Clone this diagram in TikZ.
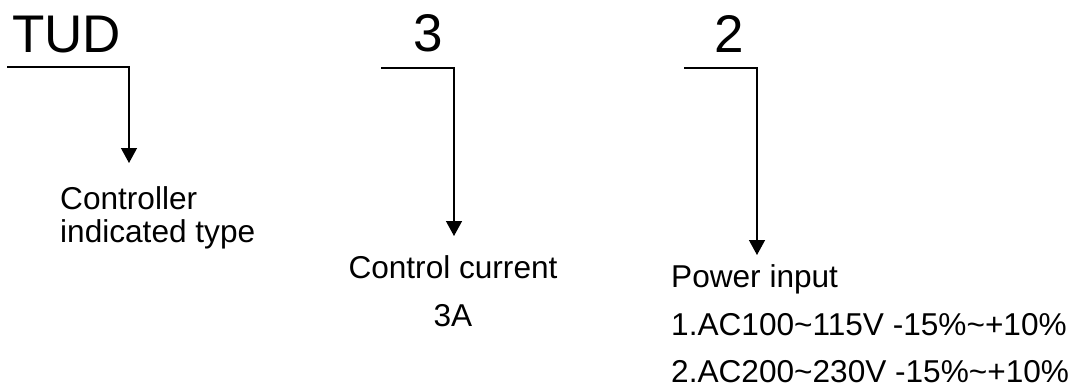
\documentclass[tikz,border=0pt]{standalone}
\usepackage{fontspec}
\setmainfont{Liberation Sans}
\usetikzlibrary{arrows.meta}

\begin{document}
\begin{tikzpicture}[x=1pt,y=-1pt,
  codetext/.style={font=\fontsize{53}{60}\selectfont,inner sep=0pt},
  desctext/.style={font=\fontsize{31.6}{38}\selectfont,inner sep=0pt},
  leader/.style={line width=1.4pt,-{Triangle[length=15pt,width=16pt]}}]
\useasboundingbox (0,0) rectangle (1079,388);
% code letters
\node[codetext,anchor=base west] (tud) at (12,52) {TUD};
\node[codetext,anchor=base] (cur) at (428.5,51) {3};
\node[codetext,anchor=base] (pwr) at (729.5,52) {2};

% leader lines
\coordinate (tudS) at (7,67);
\coordinate (tudK) at (129,67);
\coordinate (tudE) at (129,163);
\draw[leader] (tudS) -- (tudK) -- (tudE);
\coordinate (curS) at (381,68);
\coordinate (curK) at (454,68);
\coordinate (curE) at (454,236);
\draw[leader] (curS) -- (curK) -- (curE);
\coordinate (pwrS) at (684,68);
\coordinate (pwrK) at (757,68);
\coordinate (pwrE) at (757,255);
\draw[leader] (pwrS) -- (pwrK) -- (pwrE);

% descriptions
\node[desctext,anchor=base west] (tudA) at (60,209) {Controller};
\node[desctext,anchor=base west] (tudB) at (60,242) {indicated type};
\node[desctext,anchor=base] (curA) at (453,278) {Control current};
\node[desctext,anchor=base] (curB) at (453,326) {3A};
\node[desctext,anchor=base west] (pwrA) at (671,287) {Power input};
\node[desctext,anchor=base west] (pwrB) at (671,335) {1.AC100\textasciitilde115V -15\%\textasciitilde+10\%};
\node[desctext,anchor=base west] (pwrC) at (671,382) {2.AC200\textasciitilde230V -15\%\textasciitilde+10\%};
\end{tikzpicture}
\end{document}
